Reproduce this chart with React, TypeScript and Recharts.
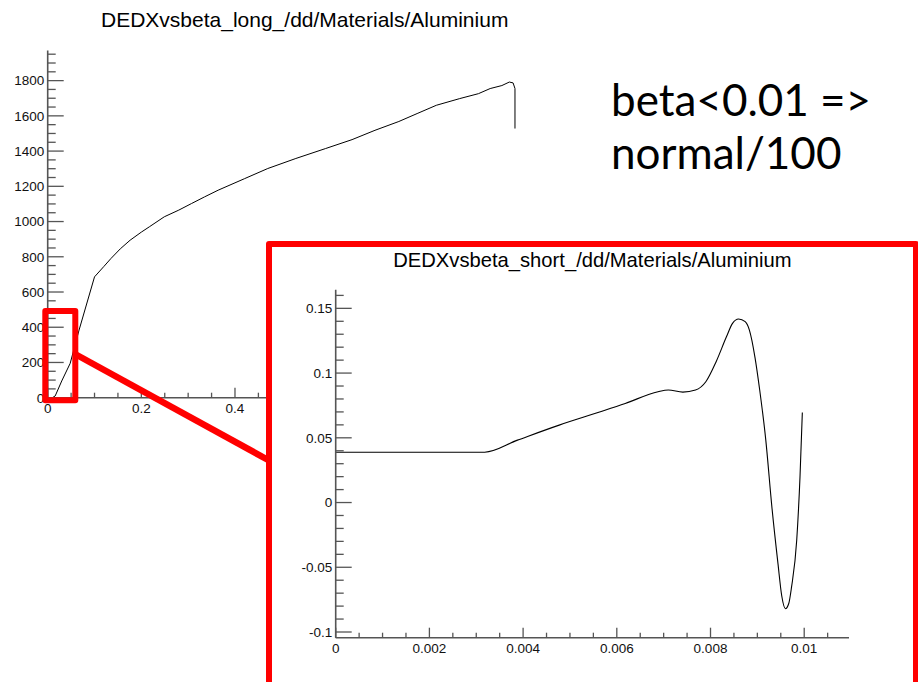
import { LineChart, Line, XAxis, YAxis } from "recharts";

// dE/dx vs beta, Aluminium, full range
const longBeta = [0, 0.01, 0.016, 0.03, 0.048, 0.067, 0.1, 0.12, 0.135, 0.155, 0.176, 0.2, 0.217, 0.249, 0.28, 0.307, 0.335, 0.364, 0.42, 0.47, 0.53, 0.593, 0.65, 0.699, 0.75, 0.789, 0.83, 0.88, 0.92, 0.945, 0.97, 0.986, 0.994, 0.998, 0.998];
const longDedx = [0.04, 0.07, 10, 95, 195, 384, 686, 745, 790, 845, 894, 940, 970, 1027, 1065, 1102, 1140, 1178, 1243, 1301, 1358, 1414, 1465, 1518, 1568, 1613, 1660, 1698, 1726, 1755, 1772, 1792, 1787, 1755, 1528];

// beta < 0.01 part
const shortBeta = [0, 0.00318, 0.00388, 0.00477, 0.00565, 0.00618, 0.00688, 0.0071, 0.00741, 0.00768, 0.0079, 0.00812, 0.00834, 0.00847, 0.0086, 0.00874, 0.00883, 0.00895, 0.00905, 0.00918, 0.00931, 0.00944, 0.00952, 0.0096, 0.00967, 0.00973, 0.00984, 0.00991, 0.00996];
const shortDedx = [0.0389, 0.0389, 0.0482, 0.0598, 0.0701, 0.0765, 0.0856, 0.0869, 0.0853, 0.0869, 0.0933, 0.1088, 0.128, 0.1384, 0.1418, 0.1397, 0.1332, 0.112, 0.0869, 0.0482, -0.0034, -0.0472, -0.072, -0.082, -0.078, -0.0652, -0.0291, 0.0198, 0.0696];

const longXMajor = [0, 0.2, 0.4, 0.6, 0.8, 1];
const longXLabels = ["0", "0.2", "0.4", "0.6", "0.8", "1"];
const longYMajor = [0, 200, 400, 600, 800, 1000, 1200, 1400, 1600, 1800];
const longYLabels = ["0", "200", "400", "600", "800", "1000", "1200", "1400", "1600", "1800"];
const shortXMajor = [0, 0.002, 0.004, 0.006, 0.008, 0.01];
const shortXLabels = ["0", "0.002", "0.004", "0.006", "0.008", "0.01"];
const shortYMajor = [-0.1, -0.05, 0, 0.05, 0.1, 0.15];
const shortYLabels = ["-0.1", "-0.05", "0", "0.05", "0.1", "0.15"];

const LONG_TITLE = "DEDXvsbeta_long_/dd/Materials/Aluminium";
const SHORT_TITLE = "DEDXvsbeta_short_/dd/Materials/Aluminium";
const NOTE = ["beta<0.01 =>", "normal/100"];

const FONT = "'Liberation Sans', Arial, sans-serif";
const NOTE_FONT = "Lato, 'Open Sans', sans-serif";
const FRAME = "#555";
const RED = "#ff0000";

const steps = (from: number, to: number, step: number) =>
  Array.from({ length: Math.round((to - from) / step) + 1 }, (_, i) => +(from + i * step).toFixed(6));

const longRows = longBeta.map((b, i) => ({ beta: b, dedx: longDedx[i] }));
const shortRows = shortBeta.map((b, i) => ({ beta: b, dedx: shortDedx[i] }));

const findMajor = (major: number[], v: number) => major.findIndex((m) => Math.abs(m - v) < 1e-9);

// ROOT style ticks: drawn inside the frame, labels only on major ones
function yTick(axisX: number, major: number[], labels: string[]) {
  return (props: any) => {
    const { y, payload } = props;
    const k = findMajor(major, payload.value);
    return (
      <g>
        <line x1={axisX} x2={axisX + (k >= 0 ? 16 : 8)} y1={y} y2={y} stroke={FRAME} strokeWidth={1.3} />
        {k >= 0 && (
          <text x={axisX - 3.5} y={y + 4.8} textAnchor="end" fontSize={13.5} fontFamily={FONT} fill="#111">
            {labels[k]}
          </text>
        )}
      </g>
    );
  };
}

function xTick(axisY: number, major: number[], labels: string[]) {
  return (props: any) => {
    const { x, payload } = props;
    const k = findMajor(major, payload.value);
    return (
      <g>
        <line x1={x} x2={x} y1={axisY} y2={axisY - (k >= 0 ? 10 : 5)} stroke={FRAME} strokeWidth={1.3} />
        {k >= 0 && (
          <text x={x} y={axisY + 15} textAnchor="middle" fontSize={13.5} fontFamily={FONT} fill="#111">
            {labels[k]}
          </text>
        )}
      </g>
    );
  };
}

const axisLine = { stroke: FRAME, strokeWidth: 1.6 };

export default function App() {
  return (
    <div style={{ position: "absolute", left: 0, top: 0, width: 918, height: 682, overflow: "hidden", background: "#fff" }}>
      <div style={{ position: "absolute", left: 0, top: 0 }}>
        <LineChart width={600} height={420} data={longRows} margin={{ top: 50.5, right: 38.3, bottom: 0, left: 0 }}>
          <XAxis dataKey="beta" type="number" domain={[0, 1.0978]} ticks={steps(0, 1.05, 0.05)} interval={0}
            height={22.3} tickLine={false} axisLine={axisLine} tick={xTick(397.7, longXMajor, longXLabels)} />
          <XAxis xAxisId="top" orientation="top" type="number" domain={[0, 1.0978]} height={0} tick={false} tickLine={false} axisLine={axisLine} />
          <YAxis type="number" domain={[0, 1971]} ticks={steps(0, 1950, 50)} interval={0} width={47.7}
            tickLine={false} axisLine={axisLine} tick={yTick(47.7, longYMajor, longYLabels)} />
          <YAxis yAxisId="right" orientation="right" type="number" domain={[0, 1971]} width={0} tick={false} tickLine={false} axisLine={axisLine} />
          <Line dataKey="dedx" type="linear" stroke="#000" strokeWidth={1} dot={false} isAnimationActive={false} />
        </LineChart>
      </div>

      {/* zoom marker on the low-beta region */}
      <svg width={918} height={682} style={{ position: "absolute", left: 0, top: 0 }}>
        <rect x={45.3} y={311} width={30} height={89.3} fill="none" stroke={RED} strokeWidth={6} strokeLinejoin="round" />
        <line x1={75} y1={354} x2={270} y2={461} stroke={RED} strokeWidth={6.5} />
      </svg>

      <div style={{ position: "absolute", left: 266, top: 241, width: 653.3, height: 460, boxSizing: "border-box", border: `6px solid ${RED}`, borderRadius: 3, background: "#fff" }} />

      <div style={{ position: "absolute", left: 266, top: 241 }}>
        <LineChart width={652} height={441} data={shortRows} margin={{ top: 48.7, right: 69, bottom: 0, left: 0 }}>
          <XAxis dataKey="beta" type="number" domain={[0, 0.010956]} ticks={steps(0, 0.0105, 0.0005)} interval={0}
            height={44.3} tickLine={false} axisLine={axisLine} tick={xTick(396.7, shortXMajor, shortXLabels)} />
          <XAxis xAxisId="top" orientation="top" type="number" domain={[0, 0.010956]} height={0} tick={false} tickLine={false} axisLine={axisLine} />
          <YAxis type="number" domain={[-0.1044, 0.1644]} ticks={steps(-0.1, 0.16, 0.01)} interval={0} width={69.7}
            tickLine={false} axisLine={axisLine} tick={yTick(69.7, shortYMajor, shortYLabels)} />
          <YAxis yAxisId="right" orientation="right" type="number" domain={[-0.1044, 0.1644]} width={0} tick={false} tickLine={false} axisLine={axisLine} />
          <Line dataKey="dedx" type="monotone" stroke="#000" strokeWidth={1.1} dot={false} isAnimationActive={false} />
        </LineChart>
      </div>

      <svg width={918} height={682} style={{ position: "absolute", left: 0, top: 0, pointerEvents: "none" }}>
        <text x={304.7} y={27.3} textAnchor="middle" fontSize={21} fontFamily={FONT} fill="#000">{LONG_TITLE}</text>
        <text x={592.4} y={267.3} textAnchor="middle" fontSize={20.2} fontFamily={FONT} fill="#000">{SHORT_TITLE}</text>
        <text x={611} y={116} fontSize={44} fontFamily={NOTE_FONT} fill="#000">{NOTE[0]}</text>
        <text x={611} y={169} fontSize={44} fontFamily={NOTE_FONT} fill="#000">{NOTE[1]}</text>
      </svg>
    </div>
  );
}
